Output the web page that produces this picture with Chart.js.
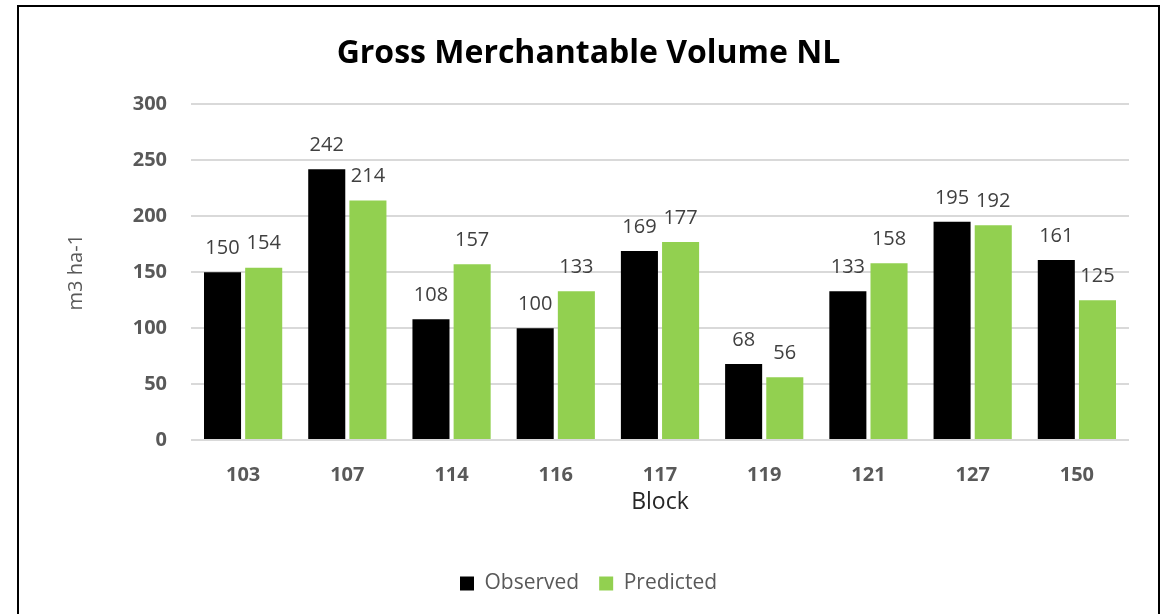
<!DOCTYPE html>
<html>
<head>
<meta charset="utf-8">
<script src="https://cdn.jsdelivr.net/npm/chart.js@4.4.1/dist/chart.umd.min.js"></script>
<style>
    html, body { margin: 0; padding: 0; background: #fff; overflow: hidden; }
    #frame {
        position: absolute;
        left: 17px;
        top: 5px;
        width: 1143px;
        height: 620px;
        border: 2px solid #000;
        box-sizing: border-box;
    }
    #chart { display: block; }
</style>
</head>
<body>
<div id="frame"><canvas id="chart" width="1139" height="616"></canvas></div>
<script>
// chart data
const blocks = ['103', '107', '114', '116', '117', '119', '121', '127', '150'];
const observed = [150, 242, 108, 100, 169, 68, 133, 195, 161];
const predicted = [154, 214, 157, 133, 177, 56, 158, 192, 125];
const yTicks = [0, 50, 100, 150, 200, 250, 300];

const FONT = "'Open Sans', sans-serif";

// Draw the value above every bar
const valueLabels = {
    id: 'valueLabels',
    afterDatasetsDraw(chart) {
        const ctx = chart.ctx;
        ctx.save();
        ctx.font = '20px ' + FONT;
        ctx.fillStyle = '#404040';
        ctx.textAlign = 'center';
        ctx.textBaseline = 'bottom';
        chart.data.datasets.forEach((ds, i) => {
            chart.getDatasetMeta(i).data.forEach((bar, j) => {
                ctx.fillText(ds.data[j], bar.x, bar.y - 14);
            });
        });
        ctx.restore();
    }
};

new Chart(document.getElementById('chart'), {
    type: 'bar',
    data: {
        labels: blocks,
        datasets: [
            {
                label: 'Observed',
                data: observed,
                backgroundColor: '#000000',
                yAxisID: 'y',
                categoryPercentage: 0.79,
                barPercentage: 0.9
            },
            {
                label: 'Predicted',
                data: predicted,
                backgroundColor: '#92d050',
                yAxisID: 'y',
                categoryPercentage: 0.79,
                barPercentage: 0.9
            }
        ]
    },
    options: {
        responsive: false,
        animation: false,
        layout: {
            padding: { left: 0, right: 0, top: 0, bottom: 19 }
        },
        plugins: {
            title: {
                display: true,
                text: 'Gross Merchantable Volume NL',
                color: '#000',
                font: { family: FONT, size: 32, weight: 'bold' },
                padding: { top: 28, bottom: 31 }
            },
            legend: {
                position: 'bottom',
                labels: {
                    color: '#595959',
                    font: { family: FONT, size: 21 },
                    boxWidth: 14,
                    boxHeight: 14,
                    padding: 20
                }
            },
            tooltip: { enabled: false }
        },
        scales: {
            x: {
                grid: { display: false, drawTicks: false },
                border: { display: false },
                ticks: {
                    color: '#595959',
                    font: { family: FONT, size: 20, weight: 'bold' },
                    padding: 23
                },
                title: {
                    display: true,
                    text: 'Block',
                    color: '#262626',
                    font: { family: FONT, size: 23 },
                    padding: { top: 0, bottom: 37 }
                },
                afterFit(scale) {
                    scale.height = 113;
                }
            },
            y: {
                min: 0,
                max: 300,
                afterBuildTicks(scale) {
                    scale.ticks = yTicks.map(v => ({ value: v }));
                },
                grid: {
                    color: '#d9d9d9',
                    lineWidth: 2,
                    drawTicks: false
                },
                border: { display: false },
                ticks: {
                    color: '#595959',
                    font: { family: FONT, size: 20, weight: 'bold' },
                    padding: 24
                },
                title: {
                    display: true,
                    text: 'm3 ha-1',
                    color: '#595959',
                    font: { family: FONT, size: 20 },
                    padding: { top: 45, bottom: 45 }
                },
                afterFit(scale) {
                    scale.width = 172;
                }
            },
            // empty right-hand axis, only keeps the plot clear of the frame
            yRight: {
                type: 'linear',
                position: 'right',
                grid: { display: false, drawTicks: false },
                border: { display: false },
                ticks: { display: false },
                afterFit(scale) {
                    scale.width = 29;
                }
            }
        }
    },
    plugins: [valueLabels]
});
</script>
</body>
</html>
